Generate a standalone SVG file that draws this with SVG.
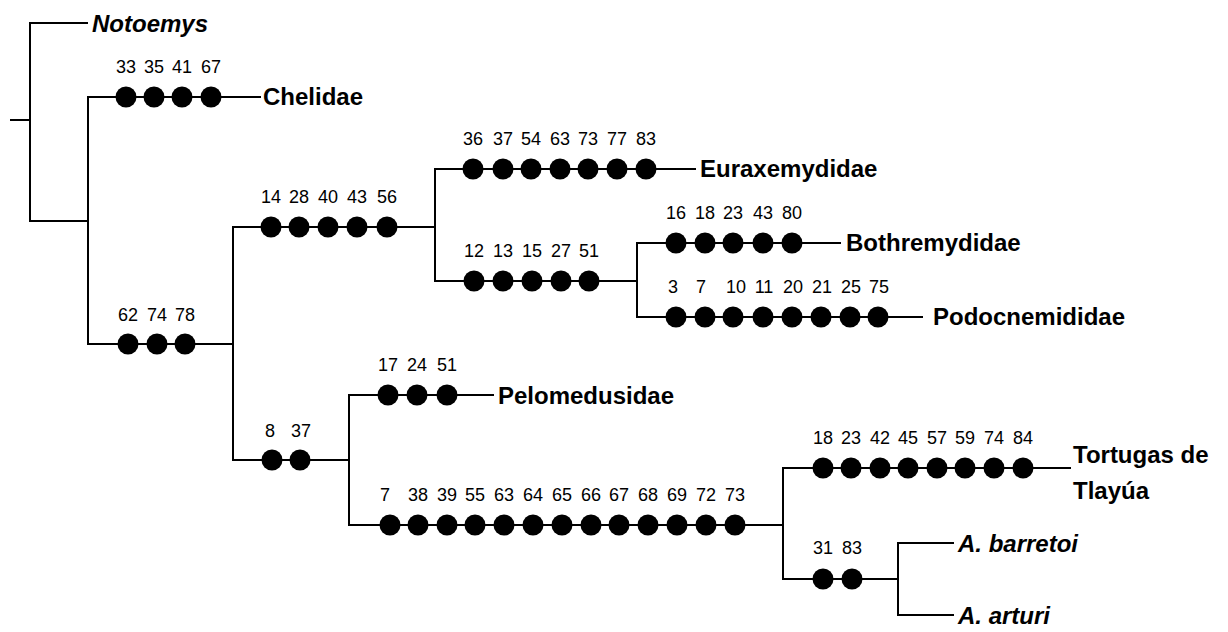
<svg xmlns="http://www.w3.org/2000/svg" width="1228" height="632" viewBox="0 0 1228 632">
<style>
.ln{stroke:#000;stroke-width:2;fill:none;stroke-linecap:square}
.dot{fill:#000}
.num{font-family:"Liberation Sans",Arial,sans-serif;font-size:18px;text-anchor:middle;fill:#000}
.tx{font-family:"Liberation Sans",Arial,sans-serif;font-size:24px;font-weight:bold;fill:#000}
.it{font-style:italic}
</style>
<rect width="1228" height="632" fill="#fff"/>
<g id="connectors">
<path class="ln" d="M11 120 H30 M30 23 V221 M30 23 H87 M30 221 H88"/>
<path class="ln" d="M88 97 V344 M88 97 H260 M88 344 H233"/>
<path class="ln" d="M233 227 V460 M233 227 H435 M233 460 H349"/>
<path class="ln" d="M435 169 V281 M435 169 H695 M435 281 H637"/>
<path class="ln" d="M637 243 V317 M637 243 H840 M637 317 H922"/>
<path class="ln" d="M349 395 V525 M349 395 H493 M349 525 H783"/>
<path class="ln" d="M783 468 V579 M783 468 H1070 M783 579 H898"/>
<path class="ln" d="M898 543 V615 M898 543 H953 M898 615 H953"/>
</g>
<g id="notoemys"><text class="tx it" x="92" y="32">Notoemys</text></g>
<g id="chelidae">
<circle class="dot" cx="126" cy="97" r="10.5"/><circle class="dot" cx="154" cy="97" r="10.5"/><circle class="dot" cx="182" cy="97" r="10.5"/><circle class="dot" cx="211" cy="97" r="10.5"/>
<text class="num" x="126" y="73">33</text><text class="num" x="154" y="73">35</text><text class="num" x="182" y="73">41</text><text class="num" x="211" y="73">67</text>
<text class="tx" x="263" y="105">Chelidae</text>
</g>
<g id="clade-62-74-78">
<circle class="dot" cx="128" cy="344" r="10.5"/><circle class="dot" cx="157" cy="344" r="10.5"/><circle class="dot" cx="185" cy="344" r="10.5"/>
<text class="num" x="128" y="321">62</text><text class="num" x="157" y="321">74</text><text class="num" x="185" y="321">78</text>
</g>
<g id="clade-14-28-40-43-56">
<circle class="dot" cx="271" cy="227" r="10.5"/><circle class="dot" cx="299" cy="227" r="10.5"/><circle class="dot" cx="328" cy="227" r="10.5"/><circle class="dot" cx="357" cy="227" r="10.5"/><circle class="dot" cx="387" cy="227" r="10.5"/>
<text class="num" x="271" y="203">14</text><text class="num" x="299" y="203">28</text><text class="num" x="328" y="203">40</text><text class="num" x="357" y="203">43</text><text class="num" x="387" y="203">56</text>
</g>
<g id="euraxemydidae">
<circle class="dot" cx="473" cy="169" r="10.5"/><circle class="dot" cx="503" cy="169" r="10.5"/><circle class="dot" cx="531" cy="169" r="10.5"/><circle class="dot" cx="560" cy="169" r="10.5"/><circle class="dot" cx="588" cy="169" r="10.5"/><circle class="dot" cx="617" cy="169" r="10.5"/><circle class="dot" cx="646" cy="169" r="10.5"/>
<text class="num" x="473" y="145">36</text><text class="num" x="503" y="145">37</text><text class="num" x="531" y="145">54</text><text class="num" x="560" y="145">63</text><text class="num" x="588" y="145">73</text><text class="num" x="617" y="145">77</text><text class="num" x="646" y="145">83</text>
<text class="tx" x="700" y="177">Euraxemydidae</text>
</g>
<g id="clade-12-13-15-27-51">
<circle class="dot" cx="474" cy="281" r="10.5"/><circle class="dot" cx="503" cy="281" r="10.5"/><circle class="dot" cx="532" cy="281" r="10.5"/><circle class="dot" cx="561" cy="281" r="10.5"/><circle class="dot" cx="589" cy="281" r="10.5"/>
<text class="num" x="474" y="257">12</text><text class="num" x="503" y="257">13</text><text class="num" x="532" y="257">15</text><text class="num" x="561" y="257">27</text><text class="num" x="589" y="257">51</text>
</g>
<g id="bothremydidae">
<circle class="dot" cx="676" cy="243" r="10.5"/><circle class="dot" cx="705" cy="243" r="10.5"/><circle class="dot" cx="733" cy="243" r="10.5"/><circle class="dot" cx="763" cy="243" r="10.5"/><circle class="dot" cx="792" cy="243" r="10.5"/>
<text class="num" x="676" y="219">16</text><text class="num" x="705" y="219">18</text><text class="num" x="733" y="219">23</text><text class="num" x="763" y="219">43</text><text class="num" x="792" y="219">80</text>
<text class="tx" x="846" y="251">Bothremydidae</text>
</g>
<g id="podocnemididae">
<circle class="dot" cx="676" cy="317" r="10.5"/><circle class="dot" cx="705" cy="317" r="10.5"/><circle class="dot" cx="733" cy="317" r="10.5"/><circle class="dot" cx="763" cy="317" r="10.5"/><circle class="dot" cx="792" cy="317" r="10.5"/><circle class="dot" cx="821" cy="317" r="10.5"/><circle class="dot" cx="850" cy="317" r="10.5"/><circle class="dot" cx="878" cy="317" r="10.5"/>
<text class="num" x="673" y="293">3</text><text class="num" x="701" y="293">7</text><text class="num" x="736" y="293">10</text><text class="num" x="764" y="293">11</text><text class="num" x="793" y="293">20</text><text class="num" x="822" y="293">21</text><text class="num" x="851" y="293">25</text><text class="num" x="879" y="293">75</text>
<text class="tx" x="933" y="325">Podocnemididae</text>
</g>
<g id="clade-8-37">
<circle class="dot" cx="272" cy="460" r="10.5"/><circle class="dot" cx="300" cy="460" r="10.5"/>
<text class="num" x="270" y="437">8</text><text class="num" x="301" y="437">37</text>
</g>
<g id="pelomedusidae">
<circle class="dot" cx="388" cy="395" r="10.5"/><circle class="dot" cx="417" cy="395" r="10.5"/><circle class="dot" cx="447" cy="395" r="10.5"/>
<text class="num" x="388" y="371">17</text><text class="num" x="417" y="371">24</text><text class="num" x="447" y="371">51</text>
<text class="tx" x="498" y="404">Pelomedusidae</text>
</g>
<g id="clade-7-73">
<circle class="dot" cx="390" cy="525" r="10.5"/><circle class="dot" cx="418" cy="525" r="10.5"/><circle class="dot" cx="447" cy="525" r="10.5"/><circle class="dot" cx="475" cy="525" r="10.5"/><circle class="dot" cx="504" cy="525" r="10.5"/><circle class="dot" cx="533" cy="525" r="10.5"/><circle class="dot" cx="562" cy="525" r="10.5"/><circle class="dot" cx="591" cy="525" r="10.5"/><circle class="dot" cx="619" cy="525" r="10.5"/><circle class="dot" cx="648" cy="525" r="10.5"/><circle class="dot" cx="677" cy="525" r="10.5"/><circle class="dot" cx="706" cy="525" r="10.5"/><circle class="dot" cx="735" cy="525" r="10.5"/>
<text class="num" x="385" y="501">7</text><text class="num" x="418" y="501">38</text><text class="num" x="447" y="501">39</text><text class="num" x="475" y="501">55</text><text class="num" x="504" y="501">63</text><text class="num" x="533" y="501">64</text><text class="num" x="562" y="501">65</text><text class="num" x="591" y="501">66</text><text class="num" x="619" y="501">67</text><text class="num" x="648" y="501">68</text><text class="num" x="677" y="501">69</text><text class="num" x="706" y="501">72</text><text class="num" x="735" y="501">73</text>
</g>
<g id="tortugas-de-tlayua">
<circle class="dot" cx="823" cy="468" r="10.5"/><circle class="dot" cx="851" cy="468" r="10.5"/><circle class="dot" cx="880" cy="468" r="10.5"/><circle class="dot" cx="908" cy="468" r="10.5"/><circle class="dot" cx="937" cy="468" r="10.5"/><circle class="dot" cx="965" cy="468" r="10.5"/><circle class="dot" cx="994" cy="468" r="10.5"/><circle class="dot" cx="1023" cy="468" r="10.5"/>
<text class="num" x="823" y="444">18</text><text class="num" x="851" y="444">23</text><text class="num" x="880" y="444">42</text><text class="num" x="908" y="444">45</text><text class="num" x="937" y="444">57</text><text class="num" x="965" y="444">59</text><text class="num" x="994" y="444">74</text><text class="num" x="1023" y="444">84</text>
<text class="tx" x="1073" y="463">Tortugas de</text>
<text class="tx" x="1073" y="499">Tlayúa</text>
</g>
<g id="clade-31-83">
<circle class="dot" cx="823" cy="579" r="10.5"/><circle class="dot" cx="852" cy="579" r="10.5"/>
<text class="num" x="823" y="554">31</text><text class="num" x="852" y="554">83</text>
</g>
<g id="a-barretoi"><text class="tx it" x="958" y="552">A. barretoi</text></g>
<g id="a-arturi"><text class="tx it" x="958" y="624">A. arturi</text></g>
</svg>
